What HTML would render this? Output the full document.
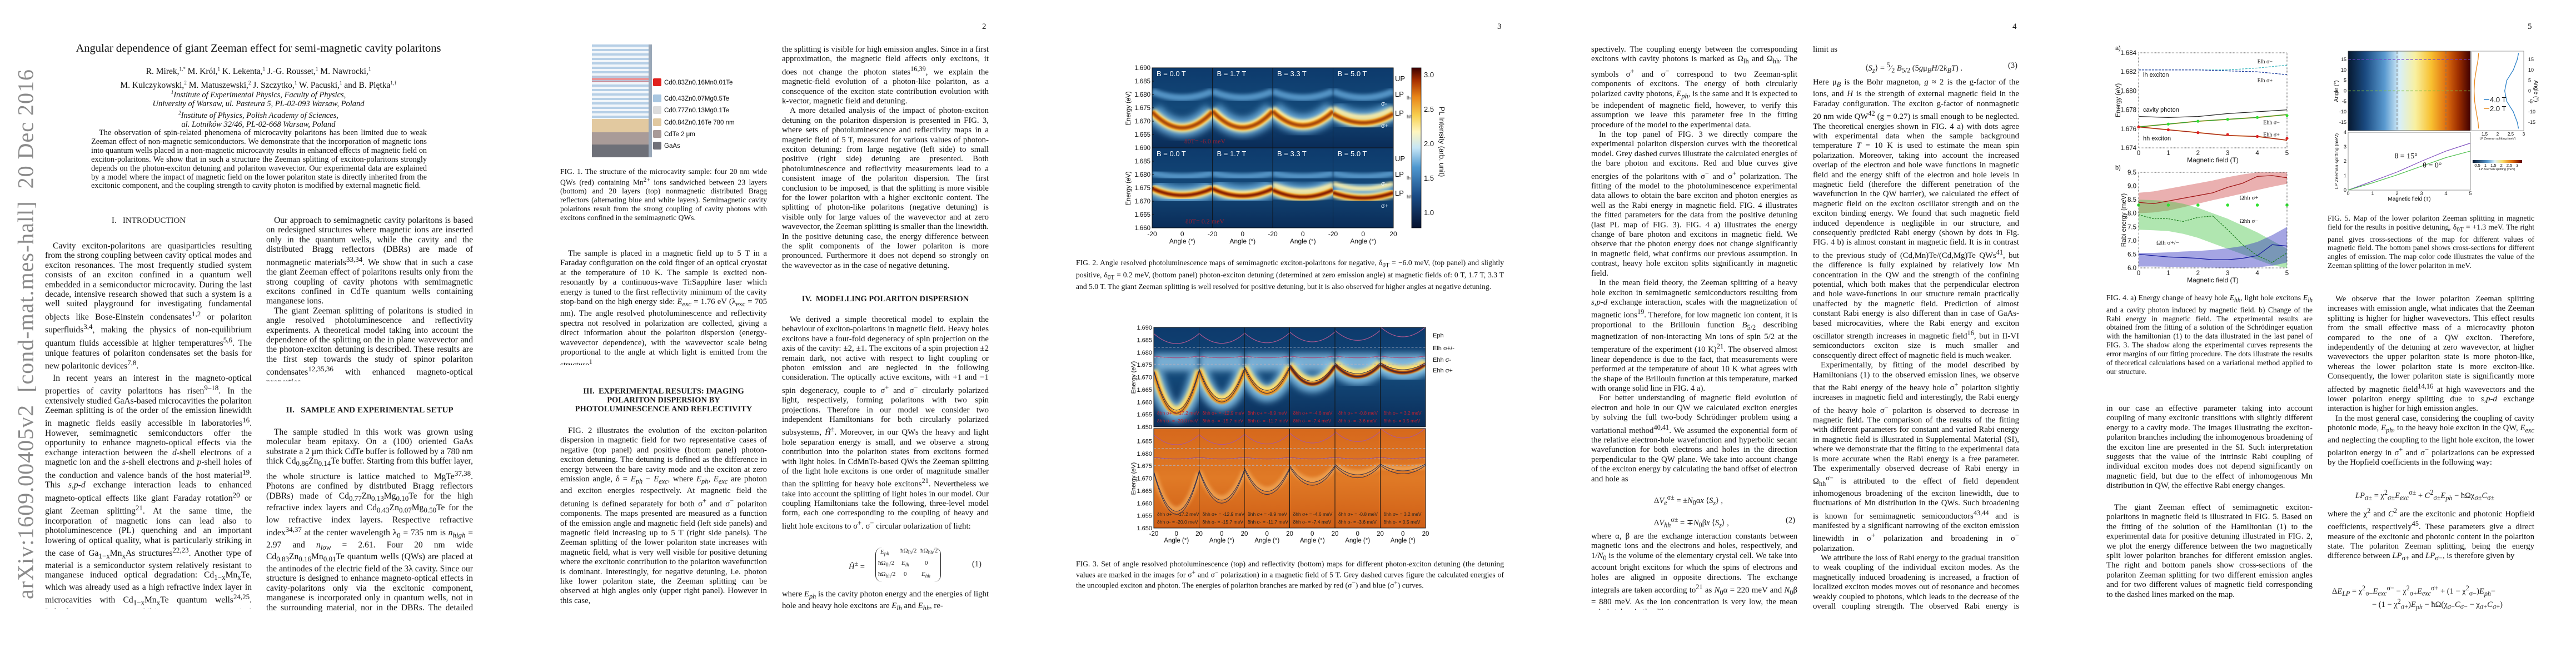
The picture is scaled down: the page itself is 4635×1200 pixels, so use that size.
<!DOCTYPE html>
<html lang="en">
<head>
<meta charset="utf-8">
<title>Angular dependence of giant Zeeman effect for semi-magnetic cavity polaritons</title>
<style>
html,body{margin:0;padding:0;background:#fff;}
body{width:4635px;height:1200px;position:relative;overflow:hidden;}
.pg{position:absolute;top:0;width:927px;height:1200px;}
.col{position:absolute;font-family:"Liberation Serif",serif;font-size:14.8px;line-height:17.4px;text-align:justify;color:#111;overflow:hidden;hyphens:auto;}
.col p{margin:0;text-indent:14px;}
.col p.ni{text-indent:0;}
.p1 .col{font-size:15.6px;}
.pn{position:absolute;left:840px;top:40px;font-family:"Liberation Serif",serif;font-size:15px;color:#1a1a1a;}
.head{position:absolute;font-family:"Liberation Serif",serif;font-weight:bold;font-size:14.5px;line-height:16px;text-align:center;color:#1a1a1a;}
.cap{position:absolute;font-family:"Liberation Serif",serif;font-size:13.6px;line-height:15.9px;text-align:justify;color:#111;overflow:hidden;}
.eq{position:absolute;font-family:"Liberation Serif",serif;font-size:14.5px;color:#1a1a1a;white-space:nowrap;}
.eqn{position:absolute;font-family:"Liberation Serif",serif;font-size:14.5px;color:#1a1a1a;}
i{font-style:italic;}
#charts{position:absolute;left:0;top:0;}
</style>
</head>
<body>

<!-- PAGE 1 -->
<div class="pg p1" style="left:0">
  <div style="position:absolute;left:26px;top:256px;width:40px;height:690px;">
    <div style="position:absolute;left:50%;top:50%;transform:translate(-50%,-50%) rotate(-90deg);white-space:nowrap;font-family:'Liberation Serif',serif;font-size:40px;color:#8a8a8a;letter-spacing:1px;">arXiv:1609.00405v2&nbsp;&nbsp;[cond-mat.mes-hall]&nbsp;&nbsp;20 Dec 2016</div>
  </div>
  <div style="position:absolute;left:100px;top:76px;width:730px;text-align:center;font-family:'Liberation Serif',serif;font-size:20.5px;color:#111;">Angular dependence of giant Zeeman effect for semi-magnetic cavity polaritons</div>
  <div style="position:absolute;left:150px;top:114px;width:630px;text-align:center;font-family:'Liberation Serif',serif;font-size:15.5px;line-height:20px;color:#111;">R. Mirek,<sup style="font-size:9px">1,*</sup> M. Król,<sup style="font-size:9px">1</sup> K. Lekenta,<sup style="font-size:9px">1</sup> J.-G. Rousset,<sup style="font-size:9px">1</sup> M. Nawrocki,<sup style="font-size:9px">1</sup><br>M. Kulczykowski,<sup style="font-size:9px">2</sup> M. Matuszewski,<sup style="font-size:9px">2</sup> J. Szczytko,<sup style="font-size:9px">1</sup> W. Pacuski,<sup style="font-size:9px">1</sup> and B. Piętka<sup style="font-size:9px">1,†</sup></div>
  <div style="position:absolute;left:150px;top:158px;width:630px;text-align:center;font-family:'Liberation Serif',serif;font-style:italic;font-size:14.5px;line-height:16px;color:#111;"><sup style="font-size:9px">1</sup>Institute of Experimental Physics, Faculty of Physics,<br>University of Warsaw, ul. Pasteura 5, PL-02-093 Warsaw, Poland<br><sup style="font-size:9px">2</sup>Institute of Physics, Polish Academy of Sciences,<br>al. Lotników 32/46, PL-02-668 Warsaw, Poland</div>
  <div class="col" style="left:164px;top:232px;width:604px;height:128px;font-size:14.3px;line-height:15.9px;"><p>The observation of spin-related phenomena of microcavity polaritons has been limited due to weak Zeeman effect of non-magnetic semiconductors. We demonstrate that the incorporation of magnetic ions into quantum wells placed in a non-magnetic microcavity results in enhanced effects of magnetic field on exciton-polaritons. We show that in such a structure the Zeeman splitting of exciton-polaritons strongly depends on the photon-exciton detuning and polariton wavevector. Our experimental data are explained by a model where the impact of magnetic field on the lower polariton state is directly inherited from the excitonic component, and the coupling strength to cavity photon is modified by external magnetic field.</p></div>
  <div class="head" style="left:82px;top:389px;width:371px;font-weight:normal;font-size:15px;">I.&nbsp;&nbsp;&nbsp;INTRODUCTION</div>
  <div class="col" style="left:81px;top:434px;width:372px;height:662px;">
    <p>Cavity exciton-polaritons are quasiparticles resulting from the strong coupling between cavity optical modes and exciton resonances. The most frequently studied system consists of an exciton confined in a quantum well embedded in a semiconductor microcavity. During the last decade, intensive research showed that such a system is a well suited playground for investigating fundamental objects like Bose-Einstein condensates<sup>1,2</sup> or polariton superfluids<sup>3,4</sup>, making the physics of non-equilibrium quantum fluids accessible at higher temperatures<sup>5,6</sup>. The unique features of polariton condensates set the basis for new polaritonic devices<sup>7,8</sup>.</p>
    <p style="margin-top:4px">In recent years an interest in the magneto-optical properties of cavity polaritons has risen<sup>9–18</sup>. In the extensively studied GaAs-based microcavities the polariton Zeeman splitting is of the order of the emission linewidth in magnetic fields easily accessible in laboratories<sup>16</sup>. However, semimagnetic semiconductors offer the opportunity to enhance magneto-optical effects via the exchange interaction between the <i>d</i>-shell electrons of a magnetic ion and the <i>s</i>-shell electrons and <i>p</i>-shell holes of the conduction and valence bands of the host material<sup>19</sup>. This <i>s,p-d</i> exchange interaction leads to enhanced magneto-optical effects like giant Faraday rotation<sup>20</sup> or giant Zeeman splitting<sup>21</sup>. At the same time, the incorporation of magnetic ions can lead also to photoluminescence (PL) quenching and an important lowering of optical quality, what is particularly striking in the case of Ga<sub>1−x</sub>Mn<sub>x</sub>As structures<sup>22,23</sup>. Another type of material is a semiconductor system relatively resistant to manganese induced optical degradation: Cd<sub>1−x</sub>Mn<sub>x</sub>Te, which was already used as a high refractive index layer in microcavities with Cd<sub>1−x</sub>Mn<sub>x</sub>Te quantum wells<sup>24,25</sup>. Indeed such a system exhibits strong magneto-optical properties<sup>26–28</sup> related to the shift of both exciton and photon states<sup>24,29</sup>, therefore it can be used for tuning the exciton-photon energy difference and for tuning the Rabi oscillation frequency<sup>30–32</sup>.</p>
  </div>
  <div class="col" style="left:479px;top:388px;width:372px;height:298px;">
    <p>Our approach to semimagnetic cavity polaritons is based on redesigned structures where magnetic ions are inserted only in the quantum wells, while the cavity and the distributed Bragg reflectors (DBRs) are made of nonmagnetic materials<sup>33,34</sup>. We show that in such a case the giant Zeeman effect of polaritons results only from the strong coupling of cavity photons with semimagnetic excitons confined in CdTe quantum wells containing manganese ions.</p>
    <p>The giant Zeeman splitting of polaritons is studied in angle resolved photoluminescence and reflectivity experiments. A theoretical model taking into account the dependence of the splitting on the in plane wavevector and the photon-exciton detuning is described. These results are the first step towards the study of spinor polariton condensates<sup>12,35,36</sup> with enhanced magneto-optical properties.</p>
  </div>
  <div class="head" style="left:479px;top:730px;width:372px;font-size:15px;">II.&nbsp;&nbsp;&nbsp;SAMPLE AND EXPERIMENTAL SETUP</div>
  <div class="col" style="left:479px;top:769px;width:372px;height:332px;">
    <p>The sample studied in this work was grown using molecular beam epitaxy. On a (100) oriented GaAs substrate a 2 μm thick CdTe buffer is followed by a 780 nm thick Cd<sub>0.86</sub>Zn<sub>0.14</sub>Te buffer. Starting from this buffer layer, the whole structure is lattice matched to MgTe<sup>37,38</sup>. Photons are confined by distributed Bragg reflectors (DBRs) made of Cd<sub>0.77</sub>Zn<sub>0.13</sub>Mg<sub>0.10</sub>Te for the high refractive index layers and Cd<sub>0.43</sub>Zn<sub>0.07</sub>Mg<sub>0.50</sub>Te for the low refractive index layers. Respective refractive index<sup>34,37</sup> at the center wavelength λ<sub>0</sub> = 735 nm is <i>n<sub>high</sub></i> = 2.97 and <i>n<sub>low</sub></i> = 2.61. Four 20 nm wide Cd<sub>0.83</sub>Zn<sub>0.16</sub>Mn<sub>0.01</sub>Te quantum wells (QWs) are placed at the antinodes of the electric field of the 3λ cavity. Since our structure is designed to enhance magneto-optical effects in cavity-polaritons only via the excitonic component, manganese is incorporated only in quantum wells, not in the surrounding material, nor in the DBRs. The detailed scheme of the sample structure is shown in FIG. 1.</p>
  </div>
</div>

<!-- PAGE 2 -->
<div class="pg" style="left:927px">
  <div class="pn">2</div>
  <div class="cap" style="left:81px;top:301px;width:372px;height:96px;">FIG. 1. The structure of the microcavity sample: four 20 nm wide QWs (red) containing Mn<sup>2+</sup> ions sandwiched between 23 layers (bottom) and 20 layers (top) nonmagnetic distributed Bragg reflectors (alternating blue and white layers). Semimagnetic cavity polaritons result from the strong coupling of cavity photons with excitons confined in the semimagnetic QWs.</div>
  <div class="col" style="left:81px;top:448px;width:372px;height:209px;">
    <p>The sample is placed in a magnetic field up to 5 T in a Faraday configuration on the cold finger of an optical cryostat at the temperature of 10 K. The sample is excited non-resonantly by a continuous-wave Ti:Sapphire laser which energy is tuned to the first reflectivity minimum of the cavity stop-band on the high energy side: <i>E<sub>exc</sub></i> = 1.76 eV (λ<sub>exc</sub> = 705 nm). The angle resolved photoluminescence and reflectivity spectra not resolved in polarization are collected, giving a direct information about the polariton dispersion (energy-wavevector dependence), with the wavevector scale being proportional to the angle at which light is emitted from the structure<sup>1</sup>.</p>
  </div>
  <div class="head" style="left:81px;top:696px;width:372px;">III.&nbsp;&nbsp;EXPERIMENTAL RESULTS: IMAGING POLARITON DISPERSION BY PHOTOLUMINESCENCE AND REFLECTIVITY</div>
  <div class="col" style="left:81px;top:767px;width:372px;height:331px;">
    <p>FIG. 2 illustrates the evolution of the exciton-polariton dispersion in magnetic field for two representative cases of negative (top panel) and positive (bottom panel) photon-exciton detuning. The detuning is defined as the difference in energy between the bare cavity mode and the exciton at zero emission angle, δ = <i>E<sub>ph</sub></i> − <i>E<sub>exc</sub></i>, where <i>E<sub>ph</sub></i>, <i>E<sub>exc</sub></i> are photon and exciton energies respectively. At magnetic field the detuning is defined separately for both σ<sup>+</sup> and σ<sup>−</sup> polariton components. The maps presented are measured as a function of the emission angle and magnetic field (left side panels) and magnetic field increasing up to 5 T (right side panels). The Zeeman splitting of the lower polariton state increases with magnetic field, what is very well visible for positive detuning where the excitonic contribution to the polariton wavefunction is dominant. Interestingly, for negative detuning, i.e. photon like lower polariton state, the Zeeman splitting can be observed at high angles only (upper right panel). However in this case,</p>
  </div>
  <div class="col" style="left:480px;top:81px;width:372px;height:418px;">
    <p class="ni">the splitting is visible for high emission angles. Since in a first approximation, the magnetic field affects only excitons, it does not change the photon states<sup>16,39</sup>, we explain the magnetic-field evolution of a photon-like polariton, as a consequence of the exciton state contribution evolution with k-vector, magnetic field and detuning.</p>
    <p>A more detailed analysis of the impact of photon-exciton detuning on the polariton dispersion is presented in FIG. 3, where sets of photoluminescence and reflectivity maps in a magnetic field of 5 T, measured for various values of photon-exciton detuning: from large negative (left side) to small positive (right side) detuning are presented. Both photoluminescence and reflectivity measurements lead to a consistent image of the polariton dispersion. The first conclusion to be imposed, is that the splitting is more visible for the lower polariton with a higher excitonic content. The splitting of photon-like polaritons (negative detuning) is visible only for large values of the wavevector and at zero wavevector, the Zeeman splitting is smaller than the linewidth. In the positive detuning case, the energy difference between the split components of the lower polariton is more pronounced. Furthermore it does not depend so strongly on the wavevector as in the case of negative detuning.</p>
  </div>
  <div class="head" style="left:480px;top:530px;width:372px;">IV.&nbsp;&nbsp;MODELLING POLARITON DISPERSION</div>
  <div class="col" style="left:480px;top:567px;width:372px;height:384px;">
    <p>We derived a simple theoretical model to explain the behaviour of exciton-polaritons in magnetic field. Heavy holes excitons have a four-fold degeneracy of spin projection on the axis of the cavity: ±2, ±1. The excitons of a spin projection ±2 remain dark, not active with respect to light coupling or photon emission and are neglected in the following consideration. The optically active excitons, with +1 and −1 spin degeneracy, couple to σ<sup>+</sup> and σ<sup>−</sup> circularly polarized light, respectively, forming polaritons with two spin projections. Therefore in our model we consider two independent Hamiltonians for both circularly polarized subsystems, <i>Ĥ</i><sup>±</sup>. Moreover, in our QWs the heavy and light hole separation energy is small, and we observe a strong contribution into the polariton states from excitons formed with light holes. In CdMnTe-based QWs the Zeeman splitting of the light hole excitons is one order of magnitude smaller than the splitting for heavy hole excitons<sup>21</sup>. Nevertheless we take into account the splitting of light holes in our model. Our coupling Hamiltonians take the following, three-level model form, each one corresponding to the coupling of heavy and light hole excitons to σ<sup>+</sup>, σ<sup>−</sup> circular polarization of light:</p>
  </div>
  <div class="eqn" style="left:600px;top:985px;width:252px;height:65px;">
    <span style="position:absolute;left:0;top:22px;"><i>Ĥ</i><sup>±</sup> =</span>
    <div style="position:absolute;left:48px;top:0;width:116px;height:62px;border-left:1.5px solid #222;border-right:1.5px solid #222;border-radius:12px;font-size:11px;">
      <div style="position:absolute;left:8px;top:2px;"><i>E<sub>ph</sub></i></div><div style="position:absolute;left:44px;top:0;">ħΩ<sub>lh</sub>/2</div><div style="position:absolute;left:80px;top:0;">ħΩ<sub>hh</sub>/2</div>
      <div style="position:absolute;left:4px;top:22px;">ħΩ<sub>lh</sub>/2</div><div style="position:absolute;left:46px;top:22px;"><i>E<sub>lh</sub></i></div><div style="position:absolute;left:88px;top:22px;">0</div>
      <div style="position:absolute;left:4px;top:42px;">ħΩ<sub>hh</sub>/2</div><div style="position:absolute;left:50px;top:42px;">0</div><div style="position:absolute;left:82px;top:42px;"><i>E<sub>hh</sub></i></div>
    </div>
    <span style="position:absolute;left:222px;top:22px;">(1)</span>
  </div>
  <div class="col" style="left:480px;top:1061px;width:372px;height:36px;">
    <p class="ni">where <i>E<sub>ph</sub></i> is the cavity photon energy and the energies of light hole and heavy hole excitons are <i>E<sub>lh</sub></i> and <i>E<sub>hh</sub></i>, re-</p>
  </div>
</div>

<!-- PAGE 3 -->
<div class="pg" style="left:1854px">
  <div class="pn">3</div>
  <div class="cap" style="left:82px;top:465px;width:770px;height:66px;">FIG. 2. Angle resolved photoluminescence maps of semimagnetic exciton-polaritons for negative, δ<sub>0T</sub> = −6.0 meV, (top panel) and slightly positive, δ<sub>0T</sub> = 0.2 meV, (bottom panel) photon-exciton detuning (determined at zero emission angle) at magnetic fields of: 0 T, 1.7 T, 3.3 T and 5.0 T. The giant Zeeman splitting is well resolved for positive detuning, but it is also observed for higher angles at negative detuning.</div>
  <div class="cap" style="left:82px;top:1007px;width:770px;height:66px;">FIG. 3. Set of angle resolved photoluminescence (top) and reflectivity (bottom) maps for different photon-exciton detuning (the detuning values are marked in the images for σ<sup>+</sup> and σ<sup>−</sup> polarization) in a magnetic field of 5 T. Grey dashed curves figure the calculated energies of the uncoupled exciton and photon. The energies of polariton branches are marked by red (σ<sup>−</sup>) and blue (σ<sup>+</sup>) curves.</div>
</div>

<!-- PAGE 4 -->
<div class="pg" style="left:2781px">
  <div class="pn">4</div>
  <div class="col" style="left:82px;top:81px;width:371px;height:800px;">
    <p class="ni">spectively. The coupling energy between the corresponding excitons with cavity photons is marked as Ω<sub>lh</sub> and Ω<sub>hh</sub>. The symbols σ<sup>+</sup> and σ<sup>−</sup> correspond to two Zeeman-split components of excitons. The energy of both circularly polarized cavity photons, <i>E<sub>ph</sub></i>, is the same and it is expected to be independent of magnetic field, however, to verify this assumption we leave this parameter free in the fitting procedure of the model to the experimental data.</p>
    <p>In the top panel of FIG. 3 we directly compare the experimental polariton dispersion curves with the theoretical model. Grey dashed curves illustrate the calculated energies of the bare photon and excitons. Red and blue curves give energies of the polaritons with σ<sup>−</sup> and σ<sup>+</sup> polarization. The fitting of the model to the photoluminescence experimental data allows to obtain the bare exciton and photon energies as well as the Rabi energy in magnetic field. FIG. 4 illustrates the fitted parameters for the data from the positive detuning (last PL map of FIG. 3). FIG. 4 a) illustrates the energy change of bare photon and excitons in magnetic field. We observe that the photon energy does not change significantly in magnetic field, what confirms our previous assumption. In contrast, heavy hole exciton splits significantly in magnetic field.</p>
    <p>In the mean field theory, the Zeeman splitting of a heavy hole exciton in semimagnetic semiconductors resulting from <i>s,p-d</i> exchange interaction, scales with the magnetization of magnetic ions<sup>19</sup>. Therefore, for low magnetic ion content, it is proportional to the Brillouin function <i>B</i><sub>5/2</sub> describing magnetization of non-interacting Mn ions of spin 5/2 at the temperature of the experiment (10 K)<sup>21</sup>. The observed almost linear dependence is due to the fact, that measurements were performed at the temperature of about 10 K what agrees with the shape of the Brillouin function at this temperature, marked with orange solid line in FIG. 4 a).</p>
    <p>For better understanding of magnetic field evolution of electron and hole in our QW we calculated exciton energies by solving the full two-body Schrödinger problem using a variational method<sup>40,41</sup>. We assumed the exponential form of the relative electron-hole wavefunction and hyperbolic secant wavefunction for both electrons and holes in the direction perpendicular to the QW plane. We take into account change of the exciton energy by calculating the band offset of electron and hole as</p>
  </div>
  <div class="eq" style="left:195px;top:888px;">Δ<i>V</i><sub><i>e</i></sub><sup>σ±</sup> = ±<i>N</i><sub>0</sub>α<i>x</i> ⟨<i>S<sub>z</sub></i>⟩ ,</div>
  <div class="eq" style="left:195px;top:928px;">Δ<i>V</i><sub><i>hh</i></sub><sup>σ±</sup> = ∓<i>N</i><sub>0</sub>β<i>x</i> ⟨<i>S<sub>z</sub></i>⟩ ,</div>
  <div class="eq" style="left:432px;top:928px;">(2)</div>
  <div class="col" style="left:82px;top:957px;width:371px;height:140px;">
    <p class="ni">where α, β are the exchange interaction constants between magnetic ions and the electrons and holes, respectively, and 1/<i>N</i><sub>0</sub> is the volume of the elementary crystal cell. We take into account bright excitons for which the spins of electrons and holes are aligned in opposite directions. The exchange integrals are taken according to<sup>21</sup> as <i>N</i><sub>0</sub>α = 220 meV and <i>N</i><sub>0</sub>β = 880 meV. As the ion concentration is very low, the mean spin is taken in the dilute</p>
  </div>
  <div class="col" style="left:481px;top:81px;width:371px;height:18px;"><p class="ni">limit as</p></div>
  <div class="eq" style="left:575px;top:110px;">⟨<i>S<sub>z</sub></i>⟩ = <sup>5</sup>⁄<sub>2</sub> <i>B</i><sub>5/2</sub> (5<i>g</i>μ<sub><i>B</i></sub><i>H</i>/2<i>k<sub>B</sub>T</i>) .</div>
  <div class="eq" style="left:832px;top:110px;">(3)</div>
  <div class="col" style="left:481px;top:140px;width:371px;height:958px;">
    <p class="ni">Here μ<sub><i>B</i></sub> is the Bohr magneton, <i>g</i> ≈ 2 is the g-factor of the ions, and <i>H</i> is the strength of external magnetic field in the Faraday configuration. The exciton g-factor of nonmagnetic 20 nm wide QW<sup>42</sup> (g = 0.27) is small enough to be neglected. The theoretical energies shown in FIG. 4 a) with dots agree with experimental data when the sample background temperature <i>T</i> = 10 K is used to estimate the mean spin polarization. Moreover, taking into account the increased overlap of the electron and hole wave functions in magnetic field and the energy shift of the electron and hole levels in magnetic field (therefore the different penetration of the wavefunction in the QW barrier), we calculated the effect of magnetic field on the exciton oscillator strength and on the exciton binding energy. We found that such magnetic field induced dependence is negligible in our structure, and consequently predicted Rabi energy (shown by dots in Fig. FIG. 4 b) is almost constant in magnetic field. It is in contrast to the previous study of (Cd,Mn)Te/(Cd,Mg)Te QWs<sup>41</sup>, but the difference is fully explained by relatively low Mn concentration in the QW and the strength of the confining potential, which both makes that the perpendicular electron and hole wave-functions in our structure remain practically unaffected by the magnetic field. Prediction of almost constant Rabi energy is also different than in case of GaAs-based microcavities, where the Rabi energy and exciton oscillator strength increases in magnetic field<sup>16</sup>, but in II-VI semiconductors exciton size is much smaller and consequently direct effect of magnetic field is much weaker.</p>
    <p>Experimentally, by fitting of the model described by Hamiltonians (1) to the observed emission lines, we observe that the Rabi energy of the heavy hole σ<sup>+</sup> polariton slightly increases in magnetic field and interestingly, the Rabi energy of the heavy hole σ<sup>−</sup> polariton is observed to decrease in magnetic field. The comparison of the results of the fitting with different parameters for constant and varied Rabi energy in magnetic field is illustrated in Supplemental Material (SI), where we demonstrate that the fitting to the experimental data is more accurate when the Rabi energy is a free parameter. The experimentally observed decrease of Rabi energy in Ω<sub>hh</sub><sup>σ−</sup> is attributed to the effect of field dependent inhomogenous broadening of the exciton linewidth, due to fluctuations of Mn distribution in the QWs. Such broadening is known for semimagnetic semiconductors<sup>43,44</sup> and is manifested by a significant narrowing of the exciton emission linewidth in σ<sup>+</sup> polarization and broadening in σ<sup>−</sup> polarization.</p>
    <p>We attribute the loss of Rabi energy to the gradual transition to weak coupling of the individual exciton modes. As the magnetically induced broadening is increased, a fraction of localized exciton modes moves out of resonance and becomes weakly coupled to photons, which leads to the decrease of the overall coupling strength. The observed Rabi energy is therefore</p>
  </div>
</div>

<!-- PAGE 5 -->
<div class="pg" style="left:3708px">
  <div class="pn">5</div>
  <div class="cap" style="left:82px;top:528px;width:371px;height:160px;">FIG. 4. a) Energy change of heavy hole <i>E<sub>hh</sub></i>, light hole excitons <i>E<sub>lh</sub></i> and a cavity photon induced by magnetic field. b) Change of the Rabi energy in magnetic field. The experimental results are obtained from the fitting of a solution of the Schrödinger equation with the hamiltonian (1) to the data illustrated in the last panel of FIG. 3. The shadow along the experimental curves represents the error margins of our fitting procedure. The dots illustrate the results of theoretical calculations based on a variational method applied to our structure.</div>
  <div class="col" style="left:82px;top:727px;width:371px;height:174px;">
    <p class="ni">in our case an effective parameter taking into account coupling of many excitonic transitions with slightly different energy to a cavity mode. The images illustrating the exciton-polariton branches including the inhomogenous broadening of the exciton line are presented in the SI. Such interpretation suggests that the value of the intrinsic Rabi coupling of individual exciton modes does not depend significantly on magnetic field, but due to the effect of inhomogenous Mn distribution in QW, the effective Rabi energy changes.</p>
  </div>
  <div class="col" style="left:82px;top:905px;width:371px;height:193px;">
    <p>The giant Zeeman effect of semimagnetic exciton-polaritons in magnetic field is illustrated in FIG. 5. Based on the fitting of the solution of the Hamiltonian (1) to the experimental data for positive detuning illustrated in FIG. 2, we plot the energy difference between the two magnetically split lower polariton branches for different emission angles. The right and bottom panels show cross-sections of the polariton Zeeman splitting for two different emission angles and for two different values of magnetic field corresponding to the dashed lines marked on the map.</p>
  </div>
  <div class="cap" style="left:480px;top:385px;width:372px;height:112px;">FIG. 5. Map of the lower polariton Zeeman splitting in magnetic field for the results in positive detuning, δ<sub>0T</sub> = +1.3 meV. The right panel gives cross-sections of the map for different values of magnetic field. The bottom panel shows cross-sections for different angles of emission. The map color code illustrates the value of the Zeeman splitting of the lower polariton in meV.</div>
  <div class="col" style="left:480px;top:530px;width:372px;height:332px;">
    <p>We observe that the lower polariton Zeeman splitting increases with emission angle, what indicates that the Zeeman splitting is higher for higher wavevectors. This effect results from the small effective mass of a microcavity photon compared to the one of a QW exciton. Therefore, independently of the detuning at zero wavevector, at higher wavevectors the upper polariton state is more photon-like, whereas the lower polariton state is more exciton-like. Consequently, the lower polariton state is significantly more affected by magnetic field<sup>14,16</sup> at high wavevectors and the lower polariton energy splitting due to <i>s,p-d</i> exchange interaction is higher for high emission angles.</p>
    <p>In the most general case, considering the coupling of cavity photonic mode, <i>E<sub>ph</sub></i>, to the heavy hole exciton in the QW, <i>E<sub>exc</sub></i> and neglecting the coupling to the light hole exciton, the lower polariton energy in σ<sup>+</sup> and σ<sup>−</sup> polarizations can be expressed by the Hopfield coefficients in the following way:</p>
  </div>
  <div class="eq" style="left:530px;top:879px;"><i>LP</i><sub>σ±</sub> = χ<sup>2</sup><sub>σ±</sub><i>E</i><sub><i>exc</i></sub><sup>σ±</sup> + <i>C</i><sup>2</sup><sub>σ±</sub><i>E<sub>ph</sub></i> − ħΩχ<sub>σ±</sub><i>C</i><sub>σ±</sub></div>
  <div class="col" style="left:480px;top:911px;width:372px;height:105px;">
    <p class="ni">where the χ<sup>2</sup> and <i>C</i><sup>2</sup> are the excitonic and photonic Hopfield coefficients, respectively<sup>45</sup>. These parameters give a direct measure of the excitonic and photonic content in the polariton state. The polariton Zeeman splitting, being the energy difference between <i>LP</i><sub>σ+</sub> and <i>LP</i><sub>σ−</sub>, is therefore given by</p>
  </div>
  <div class="eq" style="left:488px;top:1051px;">Δ<i>E<sub>LP</sub></i> = χ<sup>2</sup><sub>σ−</sub><i>E</i><sub><i>exc</i></sub><sup>σ−</sup> − χ<sup>2</sup><sub>σ+</sub><i>E</i><sub><i>exc</i></sub><sup>σ+</sup> + (1 − χ<sup>2</sup><sub>σ−</sub>)<i>E<sub>ph</sub></i>−</div>
  <div class="eq" style="left:560px;top:1075px;">− (1 − χ<sup>2</sup><sub>σ+</sub>)<i>E<sub>ph</sub></i> − ħΩ(χ<sub>σ−</sub><i>C</i><sub>σ−</sub> − χ<sub>σ+</sub><i>C</i><sub>σ+</sub>)</div>
</div>

<svg id="charts" width="4635" height="1200" xmlns="http://www.w3.org/2000/svg">
  <defs>
    <filter id="b1" x="-20%" y="-50%" width="140%" height="200%"><feGaussianBlur stdDeviation="1.2"/></filter>
    <filter id="b3" x="-20%" y="-50%" width="140%" height="200%"><feGaussianBlur stdDeviation="3"/></filter>
    <filter id="b6" x="-20%" y="-80%" width="140%" height="260%"><feGaussianBlur stdDeviation="6"/></filter>
    <linearGradient id="plbg" x1="0" y1="0" x2="0" y2="1">
      <stop offset="0" stop-color="#0d3a6c"/><stop offset="0.5" stop-color="#134878"/><stop offset="1" stop-color="#0a2c58"/>
    </linearGradient>
    <linearGradient id="reflbg" x1="0" y1="0" x2="0" y2="1">
      <stop offset="0" stop-color="#d6681c"/><stop offset="0.5" stop-color="#e07a26"/><stop offset="1" stop-color="#cf5e16"/>
    </linearGradient>
    <linearGradient id="cbar" x1="0" y1="1" x2="0" y2="0">
      <stop offset="0" stop-color="#06122e"/><stop offset="0.2" stop-color="#1a4c86"/><stop offset="0.38" stop-color="#4f98d0"/>
      <stop offset="0.5" stop-color="#c6e6f6"/><stop offset="0.6" stop-color="#fff6c0"/><stop offset="0.7" stop-color="#f8d050"/>
      <stop offset="0.82" stop-color="#e88418"/><stop offset="0.92" stop-color="#a83000"/><stop offset="1" stop-color="#3c0000"/>
    </linearGradient>
    <linearGradient id="zmap" x1="0" y1="0" x2="1" y2="0">
      <stop offset="0" stop-color="#061830"/><stop offset="0.14" stop-color="#1a4a80"/><stop offset="0.3" stop-color="#5a9ad0"/>
      <stop offset="0.42" stop-color="#d8f0fa"/><stop offset="0.55" stop-color="#f8f0a0"/><stop offset="0.68" stop-color="#f8c030"/>
      <stop offset="0.8" stop-color="#e07010"/><stop offset="0.9" stop-color="#a03000"/><stop offset="1" stop-color="#400000"/>
    </linearGradient>
    <linearGradient id="zbar" x1="0" y1="0" x2="1" y2="0">
      <stop offset="0" stop-color="#061830"/><stop offset="0.3" stop-color="#5a9ad0"/><stop offset="0.45" stop-color="#e0f4fa"/>
      <stop offset="0.6" stop-color="#f8e070"/><stop offset="0.8" stop-color="#e07010"/><stop offset="1" stop-color="#600000"/>
    </linearGradient>
  </defs>
</svg>

<script>
// ---------- DATA ----------
// Fig 2 (PL maps)
const fig2Fields = ['0.0', '1.7', '3.3', '5.0'];
const fig2LpCenterNeg = [1.6675, 1.6676, 1.6684, 1.6694];
const fig2LpEdgeNeg = [1.6735, 1.6738, 1.6737, 1.6728];
const fig2LpCenterPos = [1.6722, 1.6720, 1.6716, 1.6712];
const fig2LpEdgePos = [1.6748, 1.6747, 1.6742, 1.6732];
const fig2SplitNeg = [0, 0.0005, 0.0012, 0.0022];
const fig2SplitPos = [0, 0.0008, 0.0022, 0.0035];
const fig2LhCenter = [1.6788, 1.6792];
const fig2LhEdge = [1.6812, 1.6805];
const fig2TicksTop = ['1.690', '1.685', '1.680', '1.675', '1.670', '1.665'];
const fig2TicksBottom = ['1.690', '1.685', '1.680', '1.675', '1.670', '1.665', '1.660'];
const fig2ColorTicks = ['3.0', '2.5', '2.0', '1.5', '1.0'];
const fig2Detuning = ['-6.0', '0.2'];
// Fig 3 (PL + reflectivity, 5 T)
const fig3LpCenter = [1.6555, 1.6600, 1.6635, 1.6672, 1.6702, 1.6718];
const fig3LpEdge = [1.6722, 1.6728, 1.6736, 1.6745, 1.6750, 1.6752];
const fig3UpCenter = [1.6835, 1.6836, 1.6838, 1.6842, 1.6848, 1.6862];
const fig3DeltaPlus = ['-17.2', '-12.9', '-8.9', '-4.6', '-0.8', '3.2'];
const fig3DeltaMinus = ['-20.0', '-15.7', '-11.7', '-7.4', '-3.6', '0.5'];
const fig3TicksTop = ['1.690', '1.685', '1.680', '1.675', '1.670', '1.665', '1.660', '1.655', '1.650'];
const fig3TicksBottom = ['1.685', '1.680', '1.675', '1.670', '1.665', '1.660', '1.655', '1.650'];
const fig3Dashed = [1.6820, 1.6778, 1.6752];
// Fig 4 a)
const fig4aField = [0, 1, 2, 3, 4, 5];
const fig4aPhoton = [1.6773, 1.6772, 1.6773, 1.6776, 1.6778, 1.6780];
const fig4aHhMinus = [1.6762, 1.6765, 1.6768, 1.6770, 1.6772, 1.6775];
const fig4aHhPlus = [1.6762, 1.6759, 1.6756, 1.6753, 1.6752, 1.6748];
const fig4aLhMinus = [1.6822, 1.6822, 1.6822, 1.6822, 1.6824, 1.6827];
const fig4aLhPlus = [1.6822, 1.6822, 1.6822, 1.6821, 1.6820, 1.6817];
const fig4aDotsMinus = [1.6762, 1.6765, 1.6768, 1.6770, 1.6772, 1.6774];
const fig4aDotsPlus = [1.6762, 1.6759, 1.6756, 1.6754, 1.6752, 1.6750];
const fig4aTicks = ['1.674', '1.676', '1.678', '1.680', '1.682', '1.684'];
// Fig 4 b)
const fig4bField = [0, 0.5, 1, 1.5, 2, 2.5, 3, 3.5, 4, 4.5, 5];
const fig4bHhPlus = [8.4, 8.35, 8.45, 8.55, 8.65, 8.75, 8.95, 9.1, 9.35, 9.38, 9.3];
const fig4bHhPlusLow = [8.0, 8.03, 8.1, 8.22, 8.35, 8.48, 8.6, 8.72, 8.85, 8.97, 9.08];
const fig4bHhPlusHigh = [8.75, 8.8, 8.9, 9.0, 9.1, 9.2, 9.32, 9.42, 9.5, 9.5, 9.5];
const fig4bHhMinus = [7.95, 7.8, 7.8, 7.7, 7.85, 7.9, 7.4, 6.85, 6.45, 6.2, 6.55];
const fig4bHhMinusLow = [7.4, 7.38, 7.35, 7.25, 7.1, 6.9, 6.7, 6.5, 6.3, 6.1, 6.0];
const fig4bHhMinusHigh = [8.5, 8.48, 8.45, 8.35, 8.2, 8.0, 7.8, 7.55, 7.3, 7.0, 6.7];
const fig4bLh = [6.5, 6.45, 6.4, 6.38, 6.35, 6.3, 6.3, 6.35, 6.45, 6.85, 6.8];
const fig4bLhLow = [6.05, 6.05, 6.04, 6.03, 6.02, 6.01, 6.0, 6.0, 6.02, 6.08, 6.2];
const fig4bLhHigh = [6.55, 6.55, 6.57, 6.6, 6.62, 6.66, 6.72, 6.8, 6.95, 7.2, 7.5];
const fig4bDotsField = [0, 1, 2, 3, 4, 5];
const fig4bDots = [8.3, 8.3, 8.3, 8.3, 8.3, 8.3];
const fig4bTicks = ['6.0', '6.5', '7.0', '7.5', '8.0', '8.5', '9.0', '9.5'];
// Fig 5
const fig5Field = [0, 1, 2, 3, 4, 5];
const fig5Split15 = [0, 0.62, 1.25, 2.0, 2.7, 3.25];
const fig5Split0 = [0, 0.5, 1.05, 1.65, 2.25, 2.7];
const fig5Angles = [-18, -15, -10, -5, 0, 5, 10, 15, 18];
const fig5Cut2T = [1.27, 1.25, 1.18, 1.12, 1.1, 1.12, 1.18, 1.25, 1.27];
const fig5Cut4T = [2.8, 2.75, 2.6, 2.35, 2.27, 2.35, 2.6, 2.75, 2.8];
const fig5AngleTicks = ['15', '10', '5', '0', '-5', '-10', '-15'];
const fig5SplitTicks = ['0', '1', '2', '3', '4'];
const fig5BarTicks = ['0.5', '1', '1.5', '2', '2.5', '3'];

// ---------- HELPERS ----------
const NS = 'http://www.w3.org/2000/svg';
const svg = document.getElementById('charts');
function el(tag, parent) { const e = document.createElementNS(NS, tag); parent.appendChild(e); return e; }
function geo(e, o) { for (const k in o) e.setAttribute(k, o[k]); return e; }
function lin(d0, d1, r0, r1) { return v => r0 + (v - d0) / (d1 - d0) * (r1 - r0); }
function text(parent, x, y, s, size, anchor, fill, family) {
  const t = el('text', parent);
  geo(t, { x: x, y: y, 'font-size': size, 'text-anchor': anchor || 'start', fill: fill || '#111', 'font-family': family || '"Liberation Sans", sans-serif' });
  t.textContent = s;
  return t;
}
function pathFrom(xs, ys) { return xs.map((x, i) => (i ? 'L' : 'M') + x.toFixed(1) + ' ' + ys[i].toFixed(1)).join(' '); }
function parabola(c, e, xs, ys) {
  const px = [], py = [];
  for (let a = -20; a <= 20; a += 2) { px.push(xs(a)); py.push(ys(c + (e - c) * (a / 20) * (a / 20))); }
  return pathFrom(px, py);
}

// ---------- FIG 1 ----------
(function () {
  const g = el('g', svg);
  
  
  const X = 1065, W = 102;
  for (let i = 0; i < 34; i++) {
    const y = 80 + i * 4;
    const r = el('rect', g);
    geo(r, { x: X, y: y, width: W, height: 4, fill: i % 2 ? '#f2f6fa' : '#b6cfe6' });
  }
  for (let i = 0; i < 4; i++) {
    const r = el('rect', g);
    geo(r, { x: X, y: 138 + i * 2.5, width: W, height: 1, fill: '#e04040' });
  }
  const layers = [['#e2c9a0', 214, 24], ['#a99b98', 238, 22], ['#6e7078', 260, 23]];
  layers.forEach(l => { const r = el('rect', g); geo(r, { x: X, y: l[1], width: W, height: l[2], fill: l[0] }); });
  const side = el('rect', g); geo(side, { x: X + W, y: 80, width: 6, height: 203, fill: '#9aa8b8' });
  const legendColors = ['#e0201c', '#a8c6e0', '#dcdcdc', '#e0c8a0', '#a89a98', '#707078'];
  const legendLabels = ['Cd0.83Zn0.16Mn0.01Te', 'Cd0.43Zn0.07Mg0.5Te', 'Cd0.77Zn0.13Mg0.1Te', 'Cd0.84Zn0.16Te 780 nm', 'CdTe 2 μm', 'GaAs'];
  const legendY = [148, 177, 198, 220, 241, 262];
  legendLabels.forEach((lab, i) => {
    const it = el('g', g);
    
    
    const r = el('rect', it); geo(r, { x: 1175, y: legendY[i] - 7, width: 15, height: 14, fill: legendColors[i], rx: 2 });
    text(it, 1195, legendY[i] + 4, lab, 11.5);
  });
})();

// ---------- FIG 2 ----------
(function () {
  const g = el('g', svg);
  
  
  const X0 = 2073, PW = 108.5, RH = 144, Y0 = 122;
  const rows = [[fig2LpCenterNeg, fig2LpEdgeNeg, fig2SplitNeg], [fig2LpCenterPos, fig2LpEdgePos, fig2SplitPos]];
  rows.forEach((row, r) => {
    const yTop = Y0 + r * RH;
    const ys = lin(1.690, 1.660, yTop, yTop + RH);
    fig2Fields.forEach((B, c) => {
      const x0 = X0 + c * PW;
      const xs = lin(-20, 20, x0, x0 + PW);
      const p = el('g', g);
      
      
      const cid = 'c2_' + r + '_' + c;
      const cp = el('clipPath', p); cp.setAttribute('id', cid);
      const cr = el('rect', cp); geo(cr, { x: x0, y: yTop, width: PW, height: RH });
      const inner = el('g', p); inner.setAttribute('clip-path', 'url(#' + cid + ')');
      const bg = el('rect', inner); geo(bg, { x: x0, y: yTop, width: PW, height: RH, fill: 'url(#plbg)' });
      const lh = el('path', inner);
      geo(lh, { d: parabola(fig2LhCenter[r], fig2LhEdge[r], xs, ys), fill: 'none', stroke: '#6aaee0', 'stroke-width': 12, opacity: 0.75, filter: 'url(#b3)' });
      const c0 = row[0][c], e0 = row[1][c], sp = row[2][c];
      const glow = el('path', inner);
      geo(glow, { d: parabola(c0 + sp / 2, e0 + sp / 2, xs, ys), fill: 'none', stroke: '#7cc0ee', 'stroke-width': 34, opacity: 0.8, filter: 'url(#b6)' });
      if (sp > 0) {
        const up = el('path', inner);
        geo(up, { d: parabola(c0 + sp, e0 + sp, xs, ys), fill: 'none', stroke: '#fff0a8', 'stroke-width': 8, filter: 'url(#b3)' });
      }
      const yel = el('path', inner);
      geo(yel, { d: parabola(c0, e0, xs, ys), fill: 'none', stroke: '#ffe890', 'stroke-width': 16, filter: 'url(#b3)' });
      const org = el('path', inner);
      geo(org, { d: parabola(c0, e0, xs, ys), fill: 'none', stroke: '#ec9a1c', 'stroke-width': 10, filter: 'url(#b1)' });
      const red = el('path', inner);
      geo(red, { d: parabola(c0, e0, xs, ys), fill: 'none', stroke: '#7a1000', 'stroke-width': 5, opacity: r === 0 ? 0.6 : 0.9, filter: 'url(#b1)' });
      const lbl = text(p, x0 + 8, yTop + 15, 'B = ' + B + ' T', 13, 'start', '#ffffff');
      
      
      const sep = el('line', p); geo(sep, { x1: x0, y1: yTop, x2: x0, y2: yTop + RH, stroke: '#111', 'stroke-width': 0.8 });
    });
    const det = text(g, X0 + 95, yTop + RH - 8, 'δ0T= ' + fig2Detuning[r] + ' meV', 12, 'middle', '#a02030', '"Liberation Serif", serif');
    
    
    const ticks = r === 0 ? fig2TicksTop : fig2TicksBottom;
    ticks.forEach(t => {
      const y = ys(parseFloat(t));
      text(g, X0 - 3, y + 4, t, 11.5, 'end');
      const tk = el('line', g); geo(tk, { x1: X0, y1: y, x2: X0 + 3, y2: y, stroke: '#111' });
    });
    const yl = text(g, 0, 0, 'Energy (eV)', 11.5, 'middle');
    yl.setAttribute('transform', 'translate(2034,' + (yTop + 73) + ') rotate(-90)');
    
    
    ['UP', 'LP', 'LP'].forEach((s, i) => {
      const yy = yTop + [24, 52, 86][i];
      text(g, X0 + 4 * PW + 3, yy, s, 13);
      if (i > 0) { text(g, X0 + 4 * PW + 24, yy + 5, i === 1 ? 'lh' : 'hh', 9); }
    });
    text(g, X0 + 4 * PW - 22, yTop + 68, 'σ-', 11, 'start', '#e8f4ff');
    text(g, X0 + 4 * PW - 22, yTop + 108, 'σ+', 11, 'start', '#e8f4ff');
  });
  const frame = el('rect', g); geo(frame, { x: X0, y: Y0, width: 4 * PW, height: 2 * RH, fill: 'none', stroke: '#111', 'stroke-width': 1 });
  const mid = el('line', g); geo(mid, { x1: X0, y1: Y0 + RH, x2: X0 + 4 * PW, y2: Y0 + RH, stroke: '#111', 'stroke-width': 1 });
  const ax = lin(-20, 20, 0, PW);
  for (let c = 0; c < 4; c++) {
    const x0 = X0 + c * PW;
    text(g, x0 + ax(-20), 425, '-20', 12, 'middle');
    text(g, x0 + ax(0), 425, '0', 12, 'middle');
    const at = text(g, x0 + ax(0), 438, 'Angle (°)', 12, 'middle');
    
    
  }
  text(g, X0 + 4 * PW, 425, '20', 12, 'middle');
  const cb = el('rect', g); geo(cb, { x: 2540, y: 122, width: 17, height: 288, fill: 'url(#cbar)', stroke: '#111', 'stroke-width': 0.8 });
  
  
  const cs = lin(3.0, 1.0, 134, 382);
  fig2ColorTicks.forEach(t => { text(g, 2562, cs(parseFloat(t)) + 5, t, 13); });
  const ct = text(g, 0, 0, 'PL Intensity (arb. unit)', 13, 'middle');
  ct.setAttribute('transform', 'translate(2590,255) rotate(90)');
  
  
})();

// ---------- FIG 3 ----------
(function () {
  const g = el('g', svg);
  
  
  const X0 = 2076, PW = 81.5;
  const rowTops = [589, 771], RH = 179;
  rowTops.forEach((yTop, r) => {
    const ys = lin(1.690, 1.650, yTop, yTop + RH);
    fig3LpCenter.forEach((c0, c) => {
      const x0 = X0 + c * PW;
      const xs = lin(-20, 20, x0, x0 + PW);
      const e0 = fig3LpEdge[c];
      const p = el('g', g);
      
      
      const cid = 'c3_' + r + '_' + c;
      const cp = el('clipPath', p); cp.setAttribute('id', cid);
      const cr = el('rect', cp); geo(cr, { x: x0, y: yTop, width: PW, height: RH });
      const inner = el('g', p); inner.setAttribute('clip-path', 'url(#' + cid + ')');
      const bg = el('rect', inner); geo(bg, { x: x0, y: yTop, width: PW, height: RH, fill: r === 0 ? 'url(#plbg)' : 'url(#reflbg)' });
      if (r === 0) {
        const band = el('rect', inner); geo(band, { x: x0, y: ys(1.6795), width: PW, height: ys(1.6725) - ys(1.6795), fill: '#9ad0f2', opacity: 0.75, filter: 'url(#b6)' });
        const glow = el('path', inner); geo(glow, { d: parabola(c0, e0, xs, ys), fill: 'none', stroke: '#8ccaf0', 'stroke-width': 30, opacity: 0.85, filter: 'url(#b6)' });
        const yel = el('path', inner); geo(yel, { d: parabola(c0 + 0.0012, e0 + 0.0006, xs, ys), fill: 'none', stroke: '#ffe070', 'stroke-width': 14, filter: 'url(#b3)' });
        const org = el('path', inner); geo(org, { d: parabola(c0, e0, xs, ys), fill: 'none', stroke: '#e88a18', 'stroke-width': 7, filter: 'url(#b1)' });
        if (c >= 3) { const red = el('path', inner); geo(red, { d: parabola(c0, e0, xs, ys), fill: 'none', stroke: '#6a0c00', 'stroke-width': 4, filter: 'url(#b1)' }); }
      } else {
        const lt = el('path', inner); geo(lt, { d: parabola(c0 + 0.002, e0, xs, ys), fill: 'none', stroke: '#f5b060', 'stroke-width': 10, opacity: 0.7, filter: 'url(#b3)' });
      }
      fig3Dashed.forEach(d => {
        const dl = el('line', inner); geo(dl, { x1: x0, y1: ys(d), x2: x0 + PW, y2: ys(d), stroke: '#b0b0c0', 'stroke-width': 1, 'stroke-dasharray': '4 3' });
      });
      const upc = el('path', inner); geo(upc, { d: parabola(fig3UpCenter[c], fig3UpCenter[c] + 0.004, xs, ys), fill: 'none', stroke: '#b05890', 'stroke-width': 1.2 });
      const lhc = el('path', inner); geo(lhc, { d: parabola(1.6778, 1.6785, xs, ys), fill: 'none', stroke: '#a05080', 'stroke-width': 1.2 });
      const l1 = el('path', inner); geo(l1, { d: parabola(c0, e0, xs, ys), fill: 'none', stroke: '#303050', 'stroke-width': 1 });
      const l2 = el('path', inner); geo(l2, { d: parabola(c0 + 0.0012, e0 + 0.0006, xs, ys), fill: 'none', stroke: '#303050', 'stroke-width': 1 });
      const t1 = text(p, x0 + 6, yTop + RH - 22, 'δhh σ+ = ' + fig3DeltaPlus[c] + ' meV', 8.5, 'start', r === 0 ? '#c02030' : '#222');
      
      
      const t2 = text(p, x0 + 6, yTop + RH - 8, 'δhh σ- = ' + fig3DeltaMinus[c] + ' meV', 8.5, 'start', r === 0 ? '#c02030' : '#222');
      
      
      const sep = el('line', p); geo(sep, { x1: x0, y1: yTop, x2: x0, y2: yTop + RH, stroke: '#111', 'stroke-width': 1 });
    });
    const ticks = r === 0 ? fig3TicksTop : fig3TicksBottom;
    ticks.forEach(t => { text(g, X0 - 3, ys(parseFloat(t)) + 4, t, 11, 'end'); });
    const yl = text(g, 0, 0, 'Energy (eV)', 11, 'middle');
    yl.setAttribute('transform', 'translate(2043,' + (yTop + 90) + ') rotate(-90)');
    
    
    const fr = el('rect', g); geo(fr, { x: X0, y: yTop, width: 6 * PW, height: RH, fill: 'none', stroke: '#111', 'stroke-width': 1 });
  });
  const ax = lin(-20, 20, 0, PW);
  for (let c = 0; c < 6; c++) {
    const x0 = X0 + c * PW;
    text(g, x0 + ax(-20), 964, c === 0 ? '-20' : '20', 11.5, 'middle');
    text(g, x0 + ax(0), 964, '0', 11.5, 'middle');
    const at = text(g, x0 + ax(0), 976, 'Angle (°)', 11.5, 'middle');
    
    
  }
  text(g, X0 + 6 * PW, 964, '20', 11.5, 'middle');
  ['Eph', 'Elh σ+/-', 'Ehh σ-', 'Ehh σ+'].forEach((s, i) => {
    const t = text(g, 2578, [607, 630, 651, 670][i], s, 11);
    
    
  });
})();

// ---------- FIG 4 ----------
(function () {
  const g = el('g', svg);
  
  
  const X0 = 3848, X1 = 4115;
  const xs = lin(0, 5, X0, X1);
  // panel a
  const A0 = 95, A1 = 266;
  const ya = lin(1.674, 1.684, A1, A0);
  const pa = el('g', g);
  
  
  const fa = el('rect', pa); geo(fa, { x: X0, y: A0, width: X1 - X0, height: A1 - A0, fill: 'none', stroke: '#333', 'stroke-width': 1, 'stroke-dasharray': '1 1.5' });
  function seriesA(vals, color, dash, name, w) {
    const p = el('path', pa);
    geo(p, { d: pathFrom(fig4aField.map(xs), vals.map(ya)), fill: 'none', stroke: color, 'stroke-width': w || 1.3 });
    if (dash) p.setAttribute('stroke-dasharray', dash);
    
    
  }
  seriesA(fig4aLhMinus, '#40b8c0', '4 2', 'fig4a-lh-sigma-minus');
  seriesA(fig4aLhPlus, '#2040a0', '4 2', 'fig4a-lh-sigma-plus');
  seriesA(fig4aPhoton, '#222', null, 'fig4a-cavity-photon');
  seriesA(fig4aHhMinus, '#f0a040', null, 'fig4a-brillouin-minus', 2);
  seriesA(fig4aHhPlus, '#f0a040', null, 'fig4a-brillouin-plus', 2);
  seriesA(fig4aHhMinus, '#30a030', null, 'fig4a-hh-sigma-minus');
  seriesA(fig4aHhPlus, '#a02020', null, 'fig4a-hh-sigma-plus');
  fig4aDotsMinus.forEach((v, i) => { const d = el('circle', pa); geo(d, { cx: xs(fig4aField[i]), cy: ya(v), r: 2.6, fill: '#30e030' });   });
  fig4aDotsPlus.forEach((v, i) => { const d = el('circle', pa); geo(d, { cx: xs(fig4aField[i]), cy: ya(v), r: 2.6, fill: '#e02020' });   });
  fig4aTicks.forEach(t => { text(pa, X0 - 4, ya(parseFloat(t)) + 4, t, 11.5, 'end'); });
  fig4aField.forEach(f => { text(pa, xs(f), A1 + 13, String(f), 11.5, 'middle'); });
  text(pa, xs(2.5), A1 + 26, 'Magnetic field (T)', 12, 'middle');
  const yla = text(pa, 0, 0, 'Energy (eV)', 11.5, 'middle'); yla.setAttribute('transform', 'translate(3815,' + ((A0 + A1) / 2) + ') rotate(-90)');
  text(pa, 3806, 90, 'a)', 11);
  text(pa, xs(0.15), ya(1.6815), 'lh exciton', 11);
  text(pa, xs(0.15), ya(1.6778), 'cavity photon', 11);
  text(pa, xs(0.15), ya(1.6748), 'hh exciton', 11);
  text(pa, xs(4.0), ya(1.6829), 'Elh σ−', 10, 'start', '#222', '"Liberation Serif", serif');
  text(pa, xs(4.0), ya(1.6809), 'Elh σ+', 10, 'start', '#222', '"Liberation Serif", serif');
  text(pa, xs(4.2), ya(1.6765), 'Ehh σ−', 10, 'start', '#222', '"Liberation Serif", serif');
  text(pa, xs(4.2), ya(1.6752), 'Ehh σ+', 10, 'start', '#222', '"Liberation Serif", serif');
  // panel b
  const B0 = 310, B1 = 482;
  const yb = lin(6.0, 9.5, B1, B0);
  const pb = el('g', g);
  
  
  const cid = 'c4b';
  const cp = el('clipPath', pb); cp.setAttribute('id', cid);
  const cr = el('rect', cp); geo(cr, { x: X0, y: B0, width: X1 - X0, height: B1 - B0 });
  const inner = el('g', pb); inner.setAttribute('clip-path', 'url(#' + cid + ')');
  function band(lo, hi, color, name) {
    const xsA = fig4bField.map(xs);
    const d = pathFrom(xsA.concat(xsA.slice().reverse()), hi.map(yb).concat(lo.map(yb).reverse())) + ' Z';
    const p = el('path', inner); geo(p, { d: d, fill: color, opacity: 0.45 });
    
    
  }
  band(fig4bHhPlusLow, fig4bHhPlusHigh, '#d05050', 'fig4b-hh-plus-band');
  band(fig4bHhMinusLow, fig4bHhMinusHigh, '#50c850', 'fig4b-hh-minus-band');
  band(fig4bLhLow, fig4bLhHigh, '#3838c0', 'fig4b-lh-band');
  function seriesB(vals, color, dash, name) {
    const p = el('path', inner);
    geo(p, { d: pathFrom(fig4bField.map(xs), vals.map(yb)), fill: 'none', stroke: color, 'stroke-width': 1.3 });
    if (dash) p.setAttribute('stroke-dasharray', dash);
    
    
  }
  seriesB(fig4bHhPlus, '#a01818', null, 'fig4b-hh-plus-line');
  seriesB(fig4bHhMinus, '#208020', '3 2', 'fig4b-hh-minus-line');
  seriesB(fig4bLh, '#1a20a0', null, 'fig4b-lh-line');
  fig4bDots.forEach((v, i) => { const d = el('circle', pb); geo(d, { cx: xs(fig4bDotsField[i]), cy: yb(v), r: 2.8, fill: '#30e030' });   });
  const fb = el('rect', pb); geo(fb, { x: X0, y: B0, width: X1 - X0, height: B1 - B0, fill: 'none', stroke: '#333', 'stroke-width': 1, 'stroke-dasharray': '1 1.5' });
  fig4bTicks.forEach(t => { text(pb, X0 - 4, yb(parseFloat(t)) + 4, t, 11.5, 'end'); });
  fig4bDotsField.forEach(f => { text(pb, xs(f), B1 + 13, String(f), 11.5, 'middle'); });
  text(pb, xs(2.5), B1 + 26, 'Magnetic field (T)', 12, 'middle');
  const ylb = text(pb, 0, 0, 'Rabi energy (meV)', 11.5, 'middle'); ylb.setAttribute('transform', 'translate(3825,' + ((B0 + B1) / 2) + ') rotate(-90)');
  text(pb, 3806, 305, 'b)', 11);
  text(pb, xs(3.4), yb(8.5), 'Ωhh σ+', 11, 'start', '#222', '"Liberation Serif", serif');
  text(pb, xs(3.4), yb(7.65), 'Ωhh σ−', 11, 'start', '#222', '"Liberation Serif", serif');
  text(pb, xs(0.6), yb(6.85), 'Ωlh σ+/−', 11, 'start', '#222', '"Liberation Serif", serif');
})();

// ---------- FIG 5 ----------
(function () {
  const g = el('g', svg);
  
  
  const X0 = 4225, X1 = 4445, Y0 = 92, Y1 = 235;
  const xs = lin(0, 5, X0, X1);
  const ya = lin(-19, 19, Y1, Y0);
  const map = el('rect', g); geo(map, { x: X0, y: Y0, width: X1 - X0, height: Y1 - Y0, fill: 'url(#zmap)' });
  
  
  const cross = [[15, '#7040d0'], [0, '#80c040']];
  cross.forEach(c => { const l = el('line', g); geo(l, { x1: X0, y1: ya(c[0]), x2: X1, y2: ya(c[0]), stroke: c[1], 'stroke-width': 1.2, 'stroke-dasharray': '5 3' }); });
  [2, 4].forEach(f => { const l = el('line', g); geo(l, { x1: xs(f), y1: Y0, x2: xs(f), y2: Y1, stroke: '#707070', 'stroke-width': 1, 'stroke-dasharray': '5 3' }); });
  const fr = el('rect', g); geo(fr, { x: X0, y: Y0, width: X1 - X0, height: Y1 - Y0, fill: 'none', stroke: '#444', 'stroke-width': 0.8 });
  fig5AngleTicks.forEach(t => { text(g, X0 - 3, ya(parseFloat(t)) + 3, t, 9, 'end'); });
  const yl = text(g, 0, 0, 'Angle (°)', 10, 'middle'); yl.setAttribute('transform', 'translate(4207,164) rotate(-90)');
  // right panel
  const R0 = 4447, R1 = 4541;
  const xr = lin(1, 3, R0, R1);
  const rp = el('g', g);
  
  
  const rf = el('rect', rp); geo(rf, { x: R0, y: Y0, width: R1 - R0, height: Y1 - Y0, fill: '#fff', stroke: '#888', 'stroke-width': 0.8 });
  const c2 = el('path', rp); geo(c2, { d: pathFrom(fig5Cut2T.map(xr), fig5Angles.map(ya)), fill: 'none', stroke: '#e88a20', 'stroke-width': 1.3 });
  
  
  const c4 = el('path', rp); geo(c4, { d: pathFrom(fig5Cut4T.map(xr), fig5Angles.map(ya)), fill: 'none', stroke: '#2a80c8', 'stroke-width': 1.3 });
  
  
  const lg1 = el('line', rp); geo(lg1, { x1: R0 + 22, y1: 179, x2: R0 + 32, y2: 179, stroke: '#2a80c8', 'stroke-width': 1.5 });
  text(rp, R0 + 33, 184, '4.0 T', 13);
  const lg2 = el('line', rp); geo(lg2, { x1: R0 + 22, y1: 195, x2: R0 + 32, y2: 195, stroke: '#e88a20', 'stroke-width': 1.5 });
  text(rp, R0 + 33, 200, '2.0 T', 13);
  fig5AngleTicks.forEach(t => { text(rp, R1 + 8, ya(parseFloat(t)) + 3, t, 9); });
  ['1.5', '2', '2.5', '3'].forEach(t => { text(rp, xr(parseFloat(t)), Y1 + 9, t, 8, 'middle'); });
  text(rp, (R0 + R1) / 2, Y1 + 16, 'LP Zeeman splitting (meV)', 5.5, 'middle');
  const ra = text(rp, 0, 0, 'Angle (°)', 10, 'middle'); ra.setAttribute('transform', 'translate(4560,164) rotate(90)');
  // bottom panel
  const B0 = 238, B1 = 342;
  const yb = lin(0, 4, B1, B0);
  const bp = el('g', g);
  
  
  const bf = el('rect', bp); geo(bf, { x: X0, y: B0, width: X1 - X0, height: B1 - B0, fill: '#fff', stroke: '#777', 'stroke-width': 0.8 });
  const s15 = el('path', bp); geo(s15, { d: pathFrom(fig5Field.map(xs), fig5Split15.map(yb)), fill: 'none', stroke: '#8050c0', 'stroke-width': 1.2 });
  
  
  const s0 = el('path', bp); geo(s0, { d: pathFrom(fig5Field.map(xs), fig5Split0.map(yb)), fill: 'none', stroke: '#50c050', 'stroke-width': 1.2 });
  
  
  text(bp, xs(1.9), yb(2.2), 'θ = 15°', 14, 'start', '#111', '"Liberation Serif", serif');
  text(bp, xs(3.05), yb(1.55), 'θ = 0°', 14, 'start', '#111', '"Liberation Serif", serif');
  fig5SplitTicks.forEach(t => { text(bp, X0 - 3, yb(parseFloat(t)) + 3, t, 9, 'end'); });
  fig5Field.forEach(f => { text(bp, xs(f), B1 + 9, String(f), 9, 'middle'); });
  text(bp, xs(2.5), B1 + 19, 'Magnetic field (T)', 10, 'middle');
  const bl = text(bp, 0, 0, 'LP Zeeman splitting (meV)', 8.5, 'middle'); bl.setAttribute('transform', 'translate(4207,290) rotate(-90)');
  // colorbar
  const cb = el('rect', g); geo(cb, { x: 4449, y: 288, width: 89, height: 5, fill: 'url(#zbar)' });
  
  
  const cx = lin(0.2, 3.3, 4449, 4538);
  fig5BarTicks.forEach(t => { text(g, cx(parseFloat(t)), 300, t, 7.5, 'middle'); });
  text(g, 4493, 306, 'LP Zeeman splitting (meV)', 5.5, 'middle');
})();
</script>
</body>
</html>
